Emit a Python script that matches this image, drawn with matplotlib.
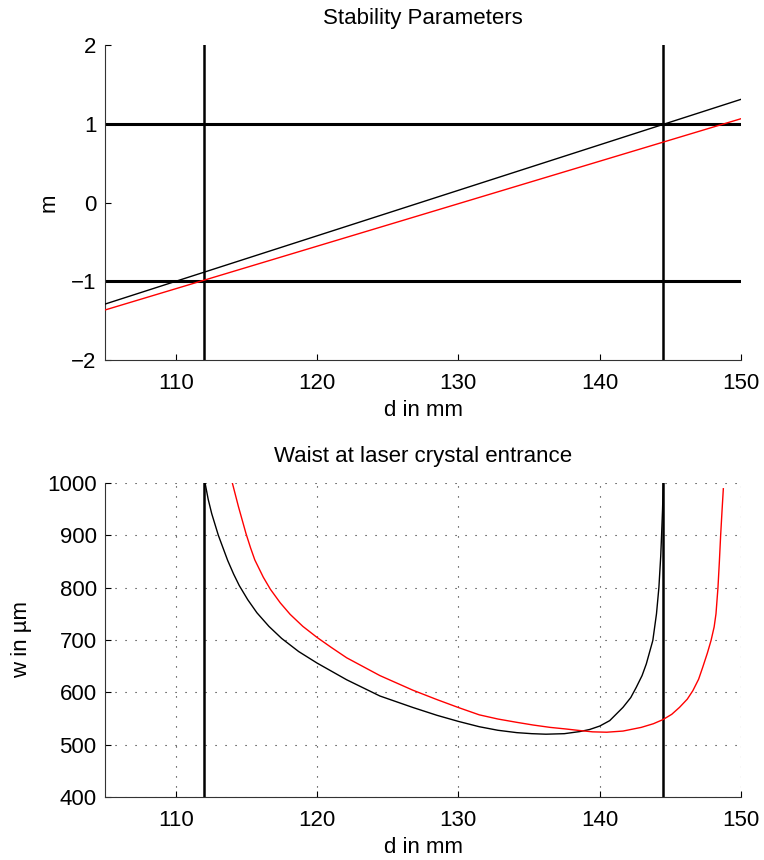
import matplotlib
matplotlib.use("Agg")
import matplotlib.pyplot as plt

plt.rcParams['font.family'] = ['Liberation Sans', 'DejaVu Sans']

# ---- data ----
# Top: stability parameters (m vs d)
m_d = [105, 150]
m_black = [-1.29, 1.31]
m_red = [-1.365, 1.064]
limits_d = [112.0, 144.5]      # vertical stability limits
limits_m = [-1.0, 1.0]         # horizontal stability limits

# Bottom: waist at crystal entrance (w vs d)
w_black_d = [112.08, 112.3, 112.55, 113.02, 113.68, 114.1, 114.5, 115.1, 115.75,
             116.6, 117.5, 118.7, 120.0, 122.1, 124.45, 126.79, 128.5, 130.0,
             131.48, 132.8, 134.13, 135.2, 136.2, 137.5, 138.59, 139.29, 140.0,
             140.71, 141.65, 142.2, 142.59, 143.0, 143.3, 143.76, 144.02, 144.19,
             144.32, 144.38, 144.45, 144.5]
w_black = [1000, 969, 941.5, 900, 852, 826, 804, 777, 752,
           726, 703, 678, 656, 624, 593, 571, 556, 544.5,
           534.3, 527.5, 523, 521, 520, 521, 525, 529, 535.5,
           545.9, 571.3, 590, 609.6, 632, 654.3, 699, 750, 800,
           860, 900, 950, 1000]

w_red_d = [114.01, 114.44, 114.98, 115.3, 115.6, 116.2, 116.7, 117.4, 118.1, 119.0,
           120.0, 121.0, 122.1, 124.45, 126.79, 128.5, 130.0, 131.48, 132.8,
           134.13, 135.3, 136.5, 137.6, 138.59, 139.5, 140.5, 141.65, 142.94,
           143.8, 144.47, 145.1, 145.65, 146.2, 146.59, 147.0, 147.29, 147.62,
           147.88, 148.1, 148.23, 148.37, 148.47, 148.56, 148.66, 148.75]
w_red = [1000, 955, 903, 876, 853, 820, 797, 771, 749, 726,
         705, 686, 666, 632, 604, 586, 571, 557, 549,
         542.7, 537.5, 533, 530, 527, 524.5, 523.8, 526, 533,
         540, 547.8, 558, 571.3, 587, 603, 625, 647.8, 675,
         699, 725, 750, 800, 850, 900, 948, 989]

# ---- figure ----
fig = plt.figure(figsize=(7.64, 8.6), dpi=100)
ax1 = fig.add_axes([105/764, 1-360/860, 636/764, 315/860])
ax2 = fig.add_axes([105/764, 1-797/860, 636/764, 314/860])

fs = 16
for ax in (ax1, ax2):
    ax.spines['top'].set_visible(False)
    ax.spines['right'].set_visible(False)
    for s in ('left', 'bottom'):
        ax.spines[s].set_linewidth(0.8)
        ax.spines[s].set_color('#333333')
    ax.tick_params(direction='in', length=4, width=0.8, labelsize=fs,
                   colors='black')
    ax.tick_params(axis='x', pad=9)
    ax.tick_params(axis='y', pad=6)

# Top plot
for x in limits_d:
    ax1.axvline(x, color='black', lw=1.8, zorder=2)
for y in limits_m:
    ax1.axhline(y, color='black', lw=2.2, zorder=2)
ax1.plot(m_d, m_black, color='black', lw=1.0, zorder=3)
ax1.plot(m_d, m_red, color='#ff0000', lw=1.0, zorder=3)
ax1.set_xlim(105, 150)
ax1.set_ylim(-2, 2)
ax1.set_xticks([110, 120, 130, 140, 150])
ax1.set_yticks([-2, -1, 0, 1, 2])
ax1.set_yticklabels(['\u22122', '\u22121', '0', '1', '2'])
ax1.set_title('Stability Parameters', fontsize=fs, pad=15)
ax1.set_xlabel('d in mm', fontsize=fs, labelpad=5)
ax1.set_ylabel('m', fontsize=fs, labelpad=8)

# Bottom plot
ax2.grid(True, color='#222222', linestyle=(0, (1, 8)), lw=0.8)
ax2.set_axisbelow(True)
for x in limits_d:
    ax2.axvline(x, color='black', lw=1.8, zorder=2)
ax2.plot(w_black_d, w_black, color='black', lw=1.0, zorder=3)
ax2.plot(w_red_d, w_red, color='#ff0000', lw=1.0, zorder=3)
ax2.set_xlim(105, 150)
ax2.set_ylim(400, 1000)
ax2.set_xticks([110, 120, 130, 140, 150])
ax2.set_yticks([400, 500, 600, 700, 800, 900, 1000])
ax2.set_title('Waist at laser crystal entrance', fontsize=fs, pad=15)
ax2.set_xlabel('d in mm', fontsize=fs, labelpad=5)
ax2.set_ylabel('w in \u00b5m', fontsize=fs, labelpad=11)

fig.savefig('out.png', dpi=100)
